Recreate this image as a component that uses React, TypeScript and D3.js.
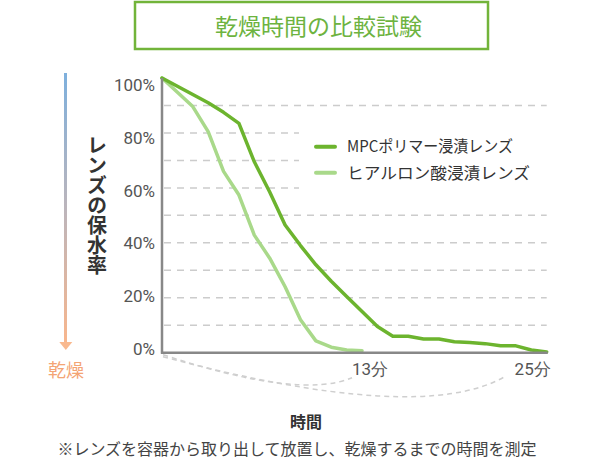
import React from "react";
import * as d3 from "d3";

const title = "乾燥時間の比較試験";
const yTitle = "レンズの保水率";
const dryLabel = "乾燥";
const xTitle = "時間";
const footnote = "※レンズを容器から取り出して放置し、乾燥するまでの時間を測定";

const seriesNames = ["MPCポリマー浸漬レンズ", "ヒアルロン酸浸漬レンズ"];
const seriesColors = ["#6cb42e", "#a9d98a"];

const mpcTime = [0, 1, 2, 3, 4, 5, 6, 7, 8, 9, 10, 11, 12, 13, 14, 15, 16, 17, 18, 19, 20, 21, 22, 23, 24, 25];
const mpcValues = [100, 97, 94, 91, 87.5, 83.5, 69.5, 58.5, 46.5, 39, 32, 26, 20.5, 15, 9.5, 6, 6, 5, 5, 4, 3.7, 3.3, 2.5, 2.5, 1, 0.3];

const haTime = [0, 1, 2, 3, 4, 5, 6, 7, 8, 9, 10, 11, 12, 13];
const haValues = [100, 94.8, 89.6, 80.5, 66, 57.4, 42.8, 34.4, 24, 12, 4.3, 2, 1, 0.7];

const yTicks = [0, 20, 40, 60, 80, 100];
const gridValues = [10, 20, 30, 40, 50, 60, 70, 80, 90];
const xTickValues = [13, 25];
const xTickLabels = ["13分", "25分"];

const JP = "'Noto Sans CJK JP', 'Noto Sans', sans-serif";
const NUM = "Roboto, 'Noto Sans', sans-serif";

export default function App() {
  const x = d3.scaleLinear().domain([0, 25]).range([162, 546.7]);
  const y = d3.scaleLinear().domain([0, 100]).range([352.7, 78]);
  const yLabel = d3.scaleLinear().domain([0, 100]).range([349, 85]);

  const line = d3
    .line<[number, number]>()
    .x((d) => x(d[0]))
    .y((d) => y(d[1]));

  const mpcPts: [number, number][] = mpcTime.map((t, i) => [t, mpcValues[i]]);
  const haPts: [number, number][] = haTime.map((t, i) => [t, haValues[i]]);

  const x0 = x(0);
  const y0 = y(0);

  return (
    <svg width={600} height={460} style={{ display: "block", position: "absolute", left: 0, top: 0 }}>
      <defs>
        <linearGradient id="arrowGrad" gradientUnits="userSpaceOnUse" x1={0} y1={73} x2={0} y2={345}>
          <stop offset="0%" stopColor="#7eb0dd" />
          <stop offset="50%" stopColor="#bcb5bb" />
          <stop offset="100%" stopColor="#f9b68c" />
        </linearGradient>
      </defs>
      <rect width={600} height={460} fill="#fff" />

      {/* title box */}
      <rect x={135} y={2} width={353} height={47} fill="#fff" stroke="#72b43a" strokeWidth={2.5} />
      <text x={215} y={25} fontFamily={JP} fontSize={23} fill="#6db33f" dominantBaseline="central">
        {title}
      </text>

      {/* gradient arrow */}
      <rect x={64} y={73} width={3} height={270} fill="url(#arrowGrad)" />
      <polygon points="59.3,342 72.3,342 65.8,350" fill="#f9b98f" />
      <text x={66} y={369} fontFamily={JP} fontSize={18} fill="#f4a474" textAnchor="middle" dominantBaseline="central">
        {dryLabel}
      </text>

      {/* y title vertical */}
      <text
        x={97}
        y={135}
        fontFamily={JP}
        fontSize={20}
        fontWeight="bold"
        fill="#333"
        style={{ writingMode: "vertical-rl" as any }}
      >
        {yTitle}
      </text>

      {/* gridlines */}
      {gridValues.map((v) => (
        <line
          key={v}
          x1={x0 + 2}
          x2={x(25)}
          y1={y(v)}
          y2={y(v)}
          stroke="#cccccc"
          strokeWidth={1.5}
          strokeDasharray="7 6"
        />
      ))}

      {/* legend background covering gridlines */}
      <rect x={299} y={120} width={252} height={78} fill="#fff" />

      {/* dashed curves below axis */}
      <path d={`M${x0 + 1},${y0 + 2} Q300,400 ${x(13) - 10},${y0 + 25}`} fill="none" stroke="#cfcfcf" strokeWidth={1.5} strokeDasharray="5 4" />
      <path d={`M${x0 + 1},${y0 + 4} Q420,425 ${x(25) - 42},${y0 + 24}`} fill="none" stroke="#cfcfcf" strokeWidth={1.5} strokeDasharray="5 4" />

      {/* series */}
      <path d={line(haPts) || ""} fill="none" stroke={seriesColors[1]} strokeWidth={3.5} strokeLinejoin="round" strokeLinecap="round" />
      <path d={line(mpcPts) || ""} fill="none" stroke={seriesColors[0]} strokeWidth={3.5} strokeLinejoin="round" strokeLinecap="round" />

      {/* axes */}
      <line x1={x0} x2={x0} y1={y(100)} y2={y0 + 1} stroke="#888" strokeWidth={2.5} />
      <line x1={x0 - 1} x2={x(25) + 1} y1={y0} y2={y0} stroke="#888" strokeWidth={2.5} />

      {/* y tick labels */}
      {yTicks.map((v) => (
        <text
          key={v}
          x={155}
          y={yLabel(v)}
          fontFamily={NUM}
          fontSize={17}
          fill="#555"
          textAnchor="end"
          dominantBaseline="central"
        >
          {v + "%"}
        </text>
      ))}

      {/* x tick labels */}
      <text x={x(xTickValues[0]) - 10} y={369} fontFamily={NUM} fontSize={17} fill="#555" dominantBaseline="central">
        {xTickLabels[0]}
      </text>
      <text x={x(xTickValues[1]) + 4} y={369} fontFamily={NUM} fontSize={17} fill="#555" textAnchor="end" dominantBaseline="central">
        {xTickLabels[1]}
      </text>

      {/* legend */}
      {seriesNames.map((name, i) => (
        <g key={name}>
          <line x1={316} x2={335} y1={146.7 + i * 26} y2={146.7 + i * 26} stroke={seriesColors[i]} strokeWidth={4} strokeLinecap="round" />
          <text
            x={347}
            y={145 + i * 27}
            fontFamily={JP}
            fontSize={16}
            fill="#333"
            dominantBaseline="central"
            textLength={i === 0 ? 166 : 183}
            lengthAdjust="spacingAndGlyphs"
          >
            {name}
          </text>
        </g>
      ))}

      {/* x title */}
      <text x={306} y={421} fontFamily={JP} fontSize={16} fontWeight="bold" fill="#333" textAnchor="middle" dominantBaseline="central">
        {xTitle}
      </text>
      <text x={297} y={448} fontFamily={JP} fontSize={16} fill="#444" textAnchor="middle" dominantBaseline="central">
        {footnote}
      </text>
    </svg>
  );
}
